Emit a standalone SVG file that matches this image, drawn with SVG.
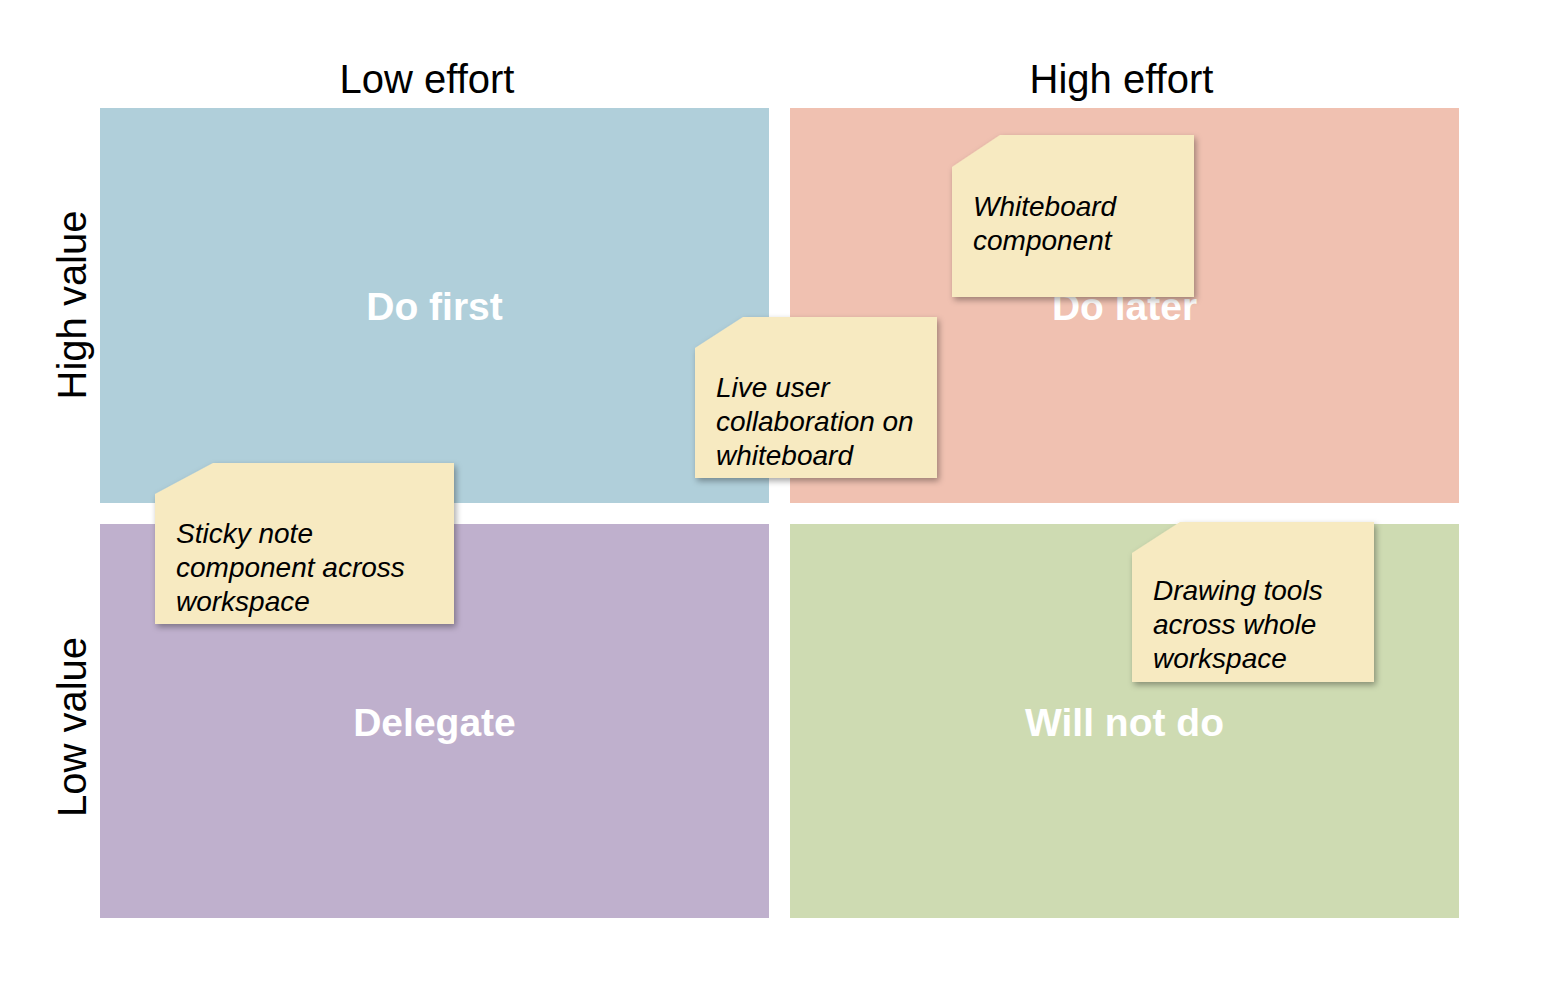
<svg xmlns="http://www.w3.org/2000/svg" width="1556" height="996" viewBox="0 0 1556 996">
<style>
.axis{font-family:"Liberation Sans",Arial,sans-serif;font-size:40px;fill:#000}
.quad{font-family:"Liberation Sans",Arial,sans-serif;font-size:39px;font-weight:bold;fill:#fff;text-anchor:middle}
.note{fill:#f7eac1;filter:url(#sh)}
.nt{font-family:"Liberation Sans",Arial,sans-serif;font-size:28px;font-style:italic;fill:#000}
</style>
<defs>
<filter id="sh" x="-10%" y="-10%" width="125%" height="130%">
<feDropShadow dx="2" dy="3" stdDeviation="3" flood-color="#000" flood-opacity="0.35"/>
</filter>
</defs>
<rect width="1556" height="996" fill="#fff"/>
<g id="quadrants">
<g id="do-first"><rect x="100" y="108" width="669" height="395" fill="#b0cfda"/><text class="quad" x="434.5" y="320">Do first</text></g>
<g id="do-later"><rect x="790" y="108" width="669" height="395" fill="#f0c1b1"/><text class="quad" x="1124.5" y="320">Do later</text></g>
<g id="delegate"><rect x="100" y="524" width="669" height="394" fill="#bfb0cd"/><text class="quad" x="434.5" y="736">Delegate</text></g>
<g id="will-not-do"><rect x="790" y="524" width="669" height="394" fill="#cedbb2"/><text class="quad" x="1124.5" y="736">Will not do</text></g>
</g>
<g id="axes">
<text class="axis" x="427" y="93" text-anchor="middle">Low effort</text>
<text class="axis" x="1121.5" y="93" text-anchor="middle">High effort</text>
<text class="axis" text-anchor="middle" transform="translate(86,305) rotate(-90)">High value</text>
<text class="axis" text-anchor="middle" transform="translate(86,727) rotate(-90)">Low value</text>
</g>
<g id="connectors"></g>
<g id="note-whiteboard">
<path class="note" d="M1000,135 H1194 V297 H952 V167 Z"/>
<text class="nt" x="973" y="216">Whiteboard</text>
<text class="nt" x="973" y="250">component</text>
</g>
<g id="note-live">
<path class="note" d="M743,317 H937 V478 H695 V348 Z"/>
<text class="nt" x="716" y="397">Live user</text>
<text class="nt" x="716" y="431">collaboration on</text>
<text class="nt" x="716" y="465">whiteboard</text>
</g>
<g id="note-sticky">
<path class="note" d="M213,463 H454 V624 H155 V494 Z"/>
<text class="nt" x="176" y="543">Sticky note</text>
<text class="nt" x="176" y="577">component across</text>
<text class="nt" x="176" y="611">workspace</text>
</g>
<g id="note-drawing">
<path class="note" d="M1180,522 H1374 V682 H1132 V553 Z"/>
<text class="nt" x="1153" y="600">Drawing tools</text>
<text class="nt" x="1153" y="634">across whole</text>
<text class="nt" x="1153" y="668">workspace</text>
</g>
</svg>
